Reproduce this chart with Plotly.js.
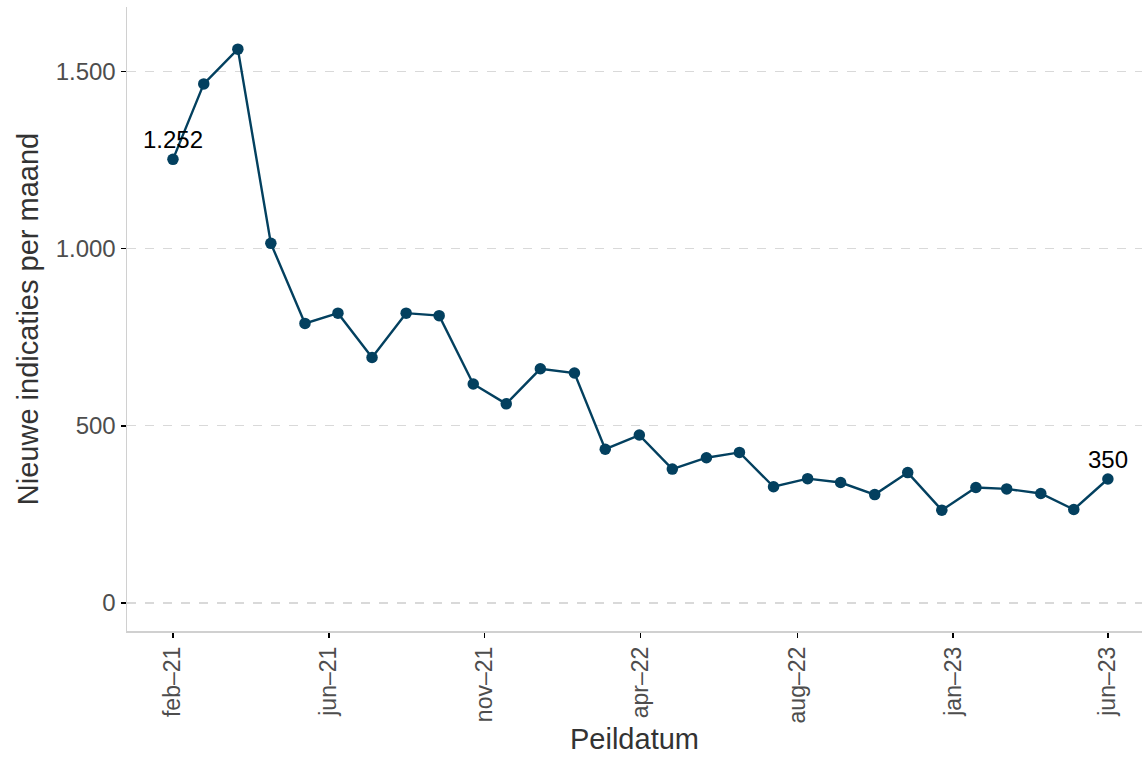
<!DOCTYPE html>
<html>
<head>
<meta charset="utf-8">
<script src="https://cdn.plot.ly/plotly-3.0.1.min.js"></script>
<style>html,body{margin:0;padding:0;background:#fff}#chart{width:1142px;height:759px}</style>
</head>
<body>
<div id="chart"></div>
<script>
const months = ["2021-02-01","2021-03-01","2021-04-01","2021-05-01","2021-06-01","2021-07-01","2021-08-01","2021-09-01","2021-10-01","2021-11-01","2021-12-01","2022-01-01","2022-02-01","2022-03-01","2022-04-01","2022-05-01","2022-06-01","2022-07-01","2022-08-01","2022-09-01","2022-10-01","2022-11-01","2022-12-01","2023-01-01","2023-02-01","2023-03-01","2023-04-01","2023-05-01","2023-06-01"];
const indicaties = [1252,1465,1563,1015,789,818,693,818,811,618,562,661,649,434,474,378,410,425,328,351,340,306,368,262,326,322,309,264,350];
const tickDates = ["2021-02-01","2021-06-22 16:00","2021-11-11 08:00","2022-04-02","2022-08-22 16:00","2023-01-11 08:00","2023-06-01"];
const tickLabels = ["feb–21","jun–21","nov–21","apr–22","aug–22","jan–23","jun–23"];
const yTicks = [0,500,1000,1500];

function fmt(v){return String(v).replace(/\B(?=(\d{3})+(?!\d))/g,".");}

const lineColor = "#03405f";
const data = [{
  x: months, y: indicaties, type: "scatter", mode: "lines+markers",
  line: {color: lineColor, width: 2.4},
  marker: {color: lineColor, size: 11.5},
  hoverinfo: "x+y"
}];
const last = indicaties.length - 1;
const annotations = [0, last].map(i => ({
  x: months[i], y: indicaties[i], xref: "x", yref: "y",
  text: fmt(indicaties[i]), showarrow: false, yanchor: "bottom", yshift: 4,
  font: {family: "Liberation Sans, Arial, sans-serif", size: 24, color: "#000"}
}));

const layout = {
  width: 1142, height: 759,
  margin: {l: 127, r: 0, t: 7, b: 128},
  paper_bgcolor: "#fff", plot_bgcolor: "#fff",
  separators: ",.",
  showlegend: false,
  font: {family: "Liberation Sans, Arial, sans-serif"},
  xaxis: {
    type: "date", range: ["2020-12-21 05:00", "2023-07-02"],
    tickmode: "array", tickvals: tickDates, ticktext: tickLabels,
    tickangle: -90, ticks: "outside", ticklen: 5, tickwidth: 1.5, tickcolor: "#000",
    showgrid: false, zeroline: false,
    showline: true, linecolor: "#d0d0d0", linewidth: 1.5,
    tickfont: {size: 23, color: "#4d4d4d"},
    title: {text: "Peildatum", font: {size: 29, color: "#333"}, standoff: 6}
  },
  yaxis: {
    range: [-79, 1682],
    tickmode: "array", tickvals: yTicks, ticktext: yTicks.map(fmt),
    ticks: "outside", ticklen: 5, tickwidth: 1.5, tickcolor: "#000",
    showgrid: true, gridcolor: "#d9d9d9", griddash: "dash", gridwidth: 1.2,
    zeroline: false, showline: true, linecolor: "#d0d0d0", linewidth: 1.5,
    tickfont: {size: 24, color: "#4d4d4d"},
    title: {text: "Nieuwe indicaties per maand", font: {size: 29, color: "#333"}, standoff: 8}
  },
  annotations: annotations
};
Plotly.newPlot("chart", data, layout, {displayModeBar: false, staticPlot: true});
</script>
</body>
</html>
